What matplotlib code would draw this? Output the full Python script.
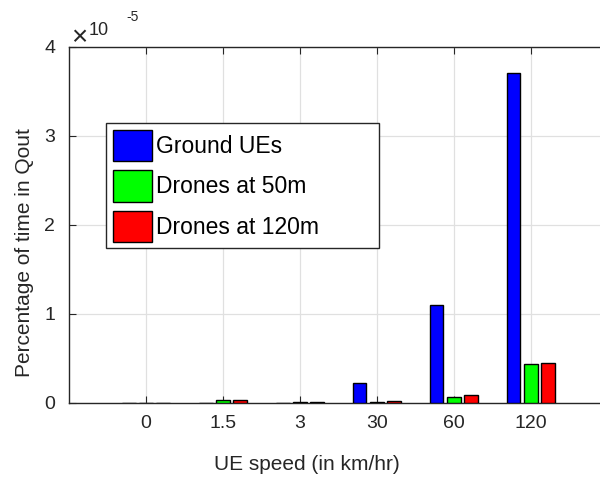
import matplotlib
matplotlib.use('Agg')
import matplotlib.pyplot as plt
from matplotlib.patches import Rectangle
from matplotlib.ticker import FuncFormatter
import numpy as np

plt.rcParams['font.family'] = ['Liberation Sans', 'DejaVu Sans']

speeds = ['0', '1.5', '3', '30', '60', '120']
ground = np.array([0.0, 0.003, 0.002, 0.225, 1.105, 3.71]) * 1e-5
drones_50 = np.array([0.001, 0.038, 0.015, 0.015, 0.07, 0.435]) * 1e-5
drones_120 = np.array([0.001, 0.036, 0.015, 0.018, 0.09, 0.45]) * 1e-5
series = [ground, drones_50, drones_120]
labels = ['Ground UEs', 'Drones at 50m', 'Drones at 120m']
colors = ['#0000ff', '#00ff00', '#ff0000']

fig = plt.figure(figsize=(6.0, 4.78), dpi=100)
ax = fig.add_axes([0.115, 0.157, 0.898, 0.745])

x = np.arange(len(speeds))
offsets = [-0.225, 0.0, 0.225]
handles = []
for vals, off, c, lab in zip(series, offsets, colors, labels):
    h = ax.bar(x + off, vals, 0.18, color=c, edgecolor='black', linewidth=1.0,
               label=lab, zorder=3)
    handles.append(h)

ax.set_xlim(-1, 6)
ax.set_ylim(0, 4e-5)
ax.set_xticks(x)
ax.set_xticklabels(speeds)
ax.set_yticks(np.arange(0, 5) * 1e-5)
ax.yaxis.set_major_formatter(FuncFormatter(lambda v, p: f'{v / 1e-5:g}'))
ax.grid(True, color='#e0e0e0', linewidth=0.9, zorder=0)
ax.set_axisbelow(True)

ax.tick_params(direction='in', top=True, right=True, length=5, width=0.8,
               labelsize=14, colors='#262626', pad=9)
ax.tick_params(axis='y', pad=10)
for s in ax.spines.values():
    s.set_color('#262626')
    s.set_linewidth(1.0)

ax.set_xlabel('UE speed (in km/hr)', fontsize=15, color='#262626')
ax.set_ylabel('Percentage of time in Qout', fontsize=15, color='#262626')
ax.xaxis.set_label_coords(307 / 600, 1 - 455 / 478, transform=fig.transFigure)
ax.yaxis.set_label_coords(34 / 600, 1 - 253 / 478, transform=fig.transFigure)

# exponent label
fig.text(71 / 600, 1 - 45 / 478, '\u00d7', fontsize=20, color='#262626')
fig.text(89 / 600, 1 - 35 / 478, '10', fontsize=13, color='#262626')
fig.text(126 / 600, 1 - 21 / 478, '-5', fontsize=10, color='#262626')

leg = ax.legend(handles=handles, loc='upper left',
                bbox_to_anchor=(106 / 600, 1 - 123 / 478),
                bbox_transform=fig.transFigure, frameon=False,
                fontsize=16.5, handlelength=1.7, handleheight=1.72,
                handletextpad=0.17, labelspacing=0.4, borderpad=0.3,
                borderaxespad=0)
leg.set_zorder(6)
ax.add_patch(Rectangle((106 / 600, 1 - 248 / 478), 273 / 600, 125 / 478,
                       transform=fig.transFigure, facecolor='white',
                       edgecolor='#262626', linewidth=1.0, zorder=5,
                       clip_on=False))

fig.savefig('out.png', dpi=100)
